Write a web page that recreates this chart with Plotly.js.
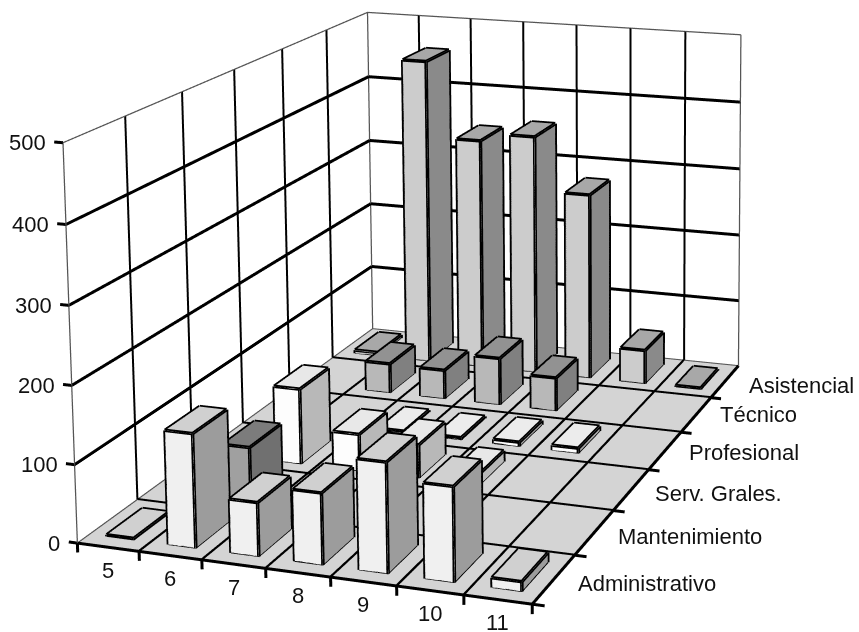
<!DOCTYPE html>
<html><head><meta charset="utf-8"><script src="https://cdn.plot.ly/plotly-3.0.1.min.js"></script>
<style>html,body{margin:0;padding:0;background:#fff;width:859px;height:632px;overflow:hidden}#c{position:absolute}</style></head>
<body><div id="c"></div>
<script>
var years=[5,6,7,8,9,10,11];
var rows=['Administrativo','Mantenimiento','Serv. Grales.','Profesional','Técnico','Asistencial'];
var zTicks=[0,100,200,300,400,500];
var administrativo=[2,145,68,90,138,118,12];
var mantenimiento=[0,75,4,0,0,0,0];
var servGrales=[0,103,50,45,15,0,0];
var profesional=[0,0,3,3,6,7,0];
var tecnico=[0,43,42,68,48,0,0];
var asistencial=[5,456,343,355,275,50,2];
var series=[administrativo,mantenimiento,servGrales,profesional,tecnico,asistencial];
var xEdges=[4.5,5.5,6.5,7.5,8.5,9.5,10.5,11.5],yEdges=[-.5,.5,1.5,2.5,3.5,4.5,5.5];

// camera fitted to the reference's box corners
var eye={x:2.5170,y:-6.1753,z:1.9269},center={x:0.4413,y:0.2861,z:0.8489};
var boxAspect={x:1.2051,y:1.8410,z:1.0231},principal={x:624.1112,y:-47.6425},focal=2513.0522;
var Hp=2*focal*Math.tan(Math.PI/8),Wp=2*Math.max(principal.x,859-principal.x)+2;
var el=document.getElementById('c');el.style.left=(principal.x-Wp/2)+'px';el.style.top=(principal.y-Hp/2)+'px';el.style.width=Wp+'px';el.style.height=Hp+'px';
var xR=[3.5,12.5],yR=[-1.5,6.5],zR=[-50,550];

var colors=[['#f0f0f0','#9c9c9c','#d0d0d0'],['#a0a0a0','#707070','#7c7c7c'],['#fdfdfd','#b8b8b8','#e8e8e8'],['#fdfdfd','#a8a8a8','#ececec'],['#b8b8b8','#808080','#929292'],['#cccccc','#8a8a8a','#a8a8a8']];
var hw=0.22,hd=0.3,traces=[];
function lines(segs,color,width){var X=[],Y=[],Z=[];segs.forEach(function(s){X.push(s[0],s[3],null);Y.push(s[1],s[4],null);Z.push(s[2],s[5],null);});
 return {type:'scatter3d',mode:'lines',x:X,y:Y,z:Z,line:{color:color,width:width},connectgaps:false,hoverinfo:'skip',showlegend:false};}
var x0=xEdges[0],x1=xEdges[7],y0=yEdges[0],y1=yEdges[6];
traces.push({type:'mesh3d',x:[x0,x1,x1,x0],y:[y0,y0,y1,y1],z:[-.6,-.6,-.6,-.6],i:[0,0],j:[1,2],k:[2,3],color:'#d4d4d4',flatshading:true,lighting:{ambient:1,diffuse:0,specular:0,roughness:1,fresnel:0},hoverinfo:'skip',showscale:false});
// floor grid and ticks
var floorSeg=[],wallV=[],wallH=[],thin=[];
xEdges.forEach(function(x,i){ if(i>0)floorSeg.push([x,y0,0,x,y1,0]); floorSeg.push([x,y0,-12,x,y0,0]); if(i>0&&i<7)wallV.push([x,y1,0,x,y1,500]);});
yEdges.forEach(function(y,i){ if(i<6)floorSeg.push([x0,y,0,x1+0.18,y,0]); if(i>0&&i<6)wallV.push([x0,y,0,x0,y,500]);});
zTicks.forEach(function(z){ floorSeg.push([x0-0.14,y0,z,x0,y0,z]); if(z>0&&z<500){wallH.push([x0,y0,z,x0,y1,z]);wallH.push([x0,y1,z,x1,y1,z]);}});
thin.push([x0,y0,0,x0,y1,0],[x0,y1,0,x1,y1,0],[x0,y0,500,x0,y1,500],[x0,y1,500,x1,y1,500],[x0,y0,0,x0,y0,500],[x0,y1,0,x0,y1,500],[x1,y1,0,x1,y1,500]);
traces.push(lines(thin,'#555',2.5));traces.push(lines(wallV,'#000',4));traces.push(lines(wallH,'#000',6));traces.push(lines(floorSeg,'#000',6));
series.forEach(function(vals,r){
 var X=[],Y=[],Z=[],I=[],J=[],K=[],FC=[],segs=[];
 vals.forEach(function(v,i){ if(!v)return;
  var a=years[i]-hw,c=years[i]+hw,d=r-hd,e=r+hd,b=X.length;
  var pts=[[a,d,0],[c,d,0],[c,e,0],[a,e,0],[a,d,v],[c,d,v],[c,e,v],[a,e,v]];
  pts.forEach(function(q){X.push(q[0]);Y.push(q[1]);Z.push(q[2]);});
  [[0,1,5,0],[0,5,4,0],[1,2,6,1],[1,6,5,1],[4,5,6,2],[4,6,7,2],[3,0,4,0],[3,4,7,0],[2,3,7,1],[2,7,6,1]].forEach(function(f){I.push(b+f[0]);J.push(b+f[1]);K.push(b+f[2]);FC.push(colors[r][f[3]]);});
  [[0,1],[1,2],[2,3],[3,0],[4,5],[5,6],[6,7],[7,4],[0,4],[1,5],[2,6],[3,7]].forEach(function(ed){segs.push(pts[ed[0]].concat(pts[ed[1]]));});
 });
 traces.push({type:'mesh3d',x:X,y:Y,z:Z,i:I,j:J,k:K,facecolor:FC,flatshading:true,lighting:{ambient:1,diffuse:0,specular:0,roughness:1,fresnel:0},hoverinfo:'skip',showscale:false});
 traces.push(lines(segs,'#000',7));
});
var fnt={family:'Liberation Sans, Arial, sans-serif',size:22,color:'#111'};
var ann=[];
years.forEach(function(v){ann.push({x:v,y:y0,z:0,text:String(v),showarrow:false,font:fnt,yshift:-23,xshift:0,xanchor:'center',yanchor:'middle'});});
var rowShift=[0,0,0,2,4,0];
rows.forEach(function(v,i){ann.push({x:x1,y:i,z:0,text:v,showarrow:false,font:fnt,xshift:22,yshift:-4+rowShift[i],xanchor:'left',yanchor:'middle'});});
zTicks.forEach(function(v){ann.push({x:x0,y:y0,z:v,text:String(v),showarrow:false,font:fnt,xshift:-15,xanchor:'right',yanchor:'middle'});});
var ax={visible:false,showgrid:false,zeroline:false,showline:false,showticklabels:false,ticks:'',showspikes:false,showbackground:false,autorange:false};
var layout={width:Wp,height:Hp,margin:{l:0,r:0,t:0,b:0,pad:0},paper_bgcolor:'#fff',showlegend:false,
 scene:{domain:{x:[0,1],y:[0,1]},annotations:ann,aspectmode:'manual',
  aspectratio:{x:boxAspect.x*(xR[1]-xR[0])/(x1-x0),y:boxAspect.y*(yR[1]-yR[0])/(y1-y0),z:boxAspect.z*(zR[1]-zR[0])/500},
  camera:{eye:eye,center:center,up:{x:0,y:0,z:1},projection:{type:'perspective'}},
  xaxis:Object.assign({},ax,{range:xR}),yaxis:Object.assign({},ax,{range:yR}),zaxis:Object.assign({},ax,{range:zR})}};
Plotly.newPlot('c',traces,layout,{displayModeBar:false});
</script></body></html>
